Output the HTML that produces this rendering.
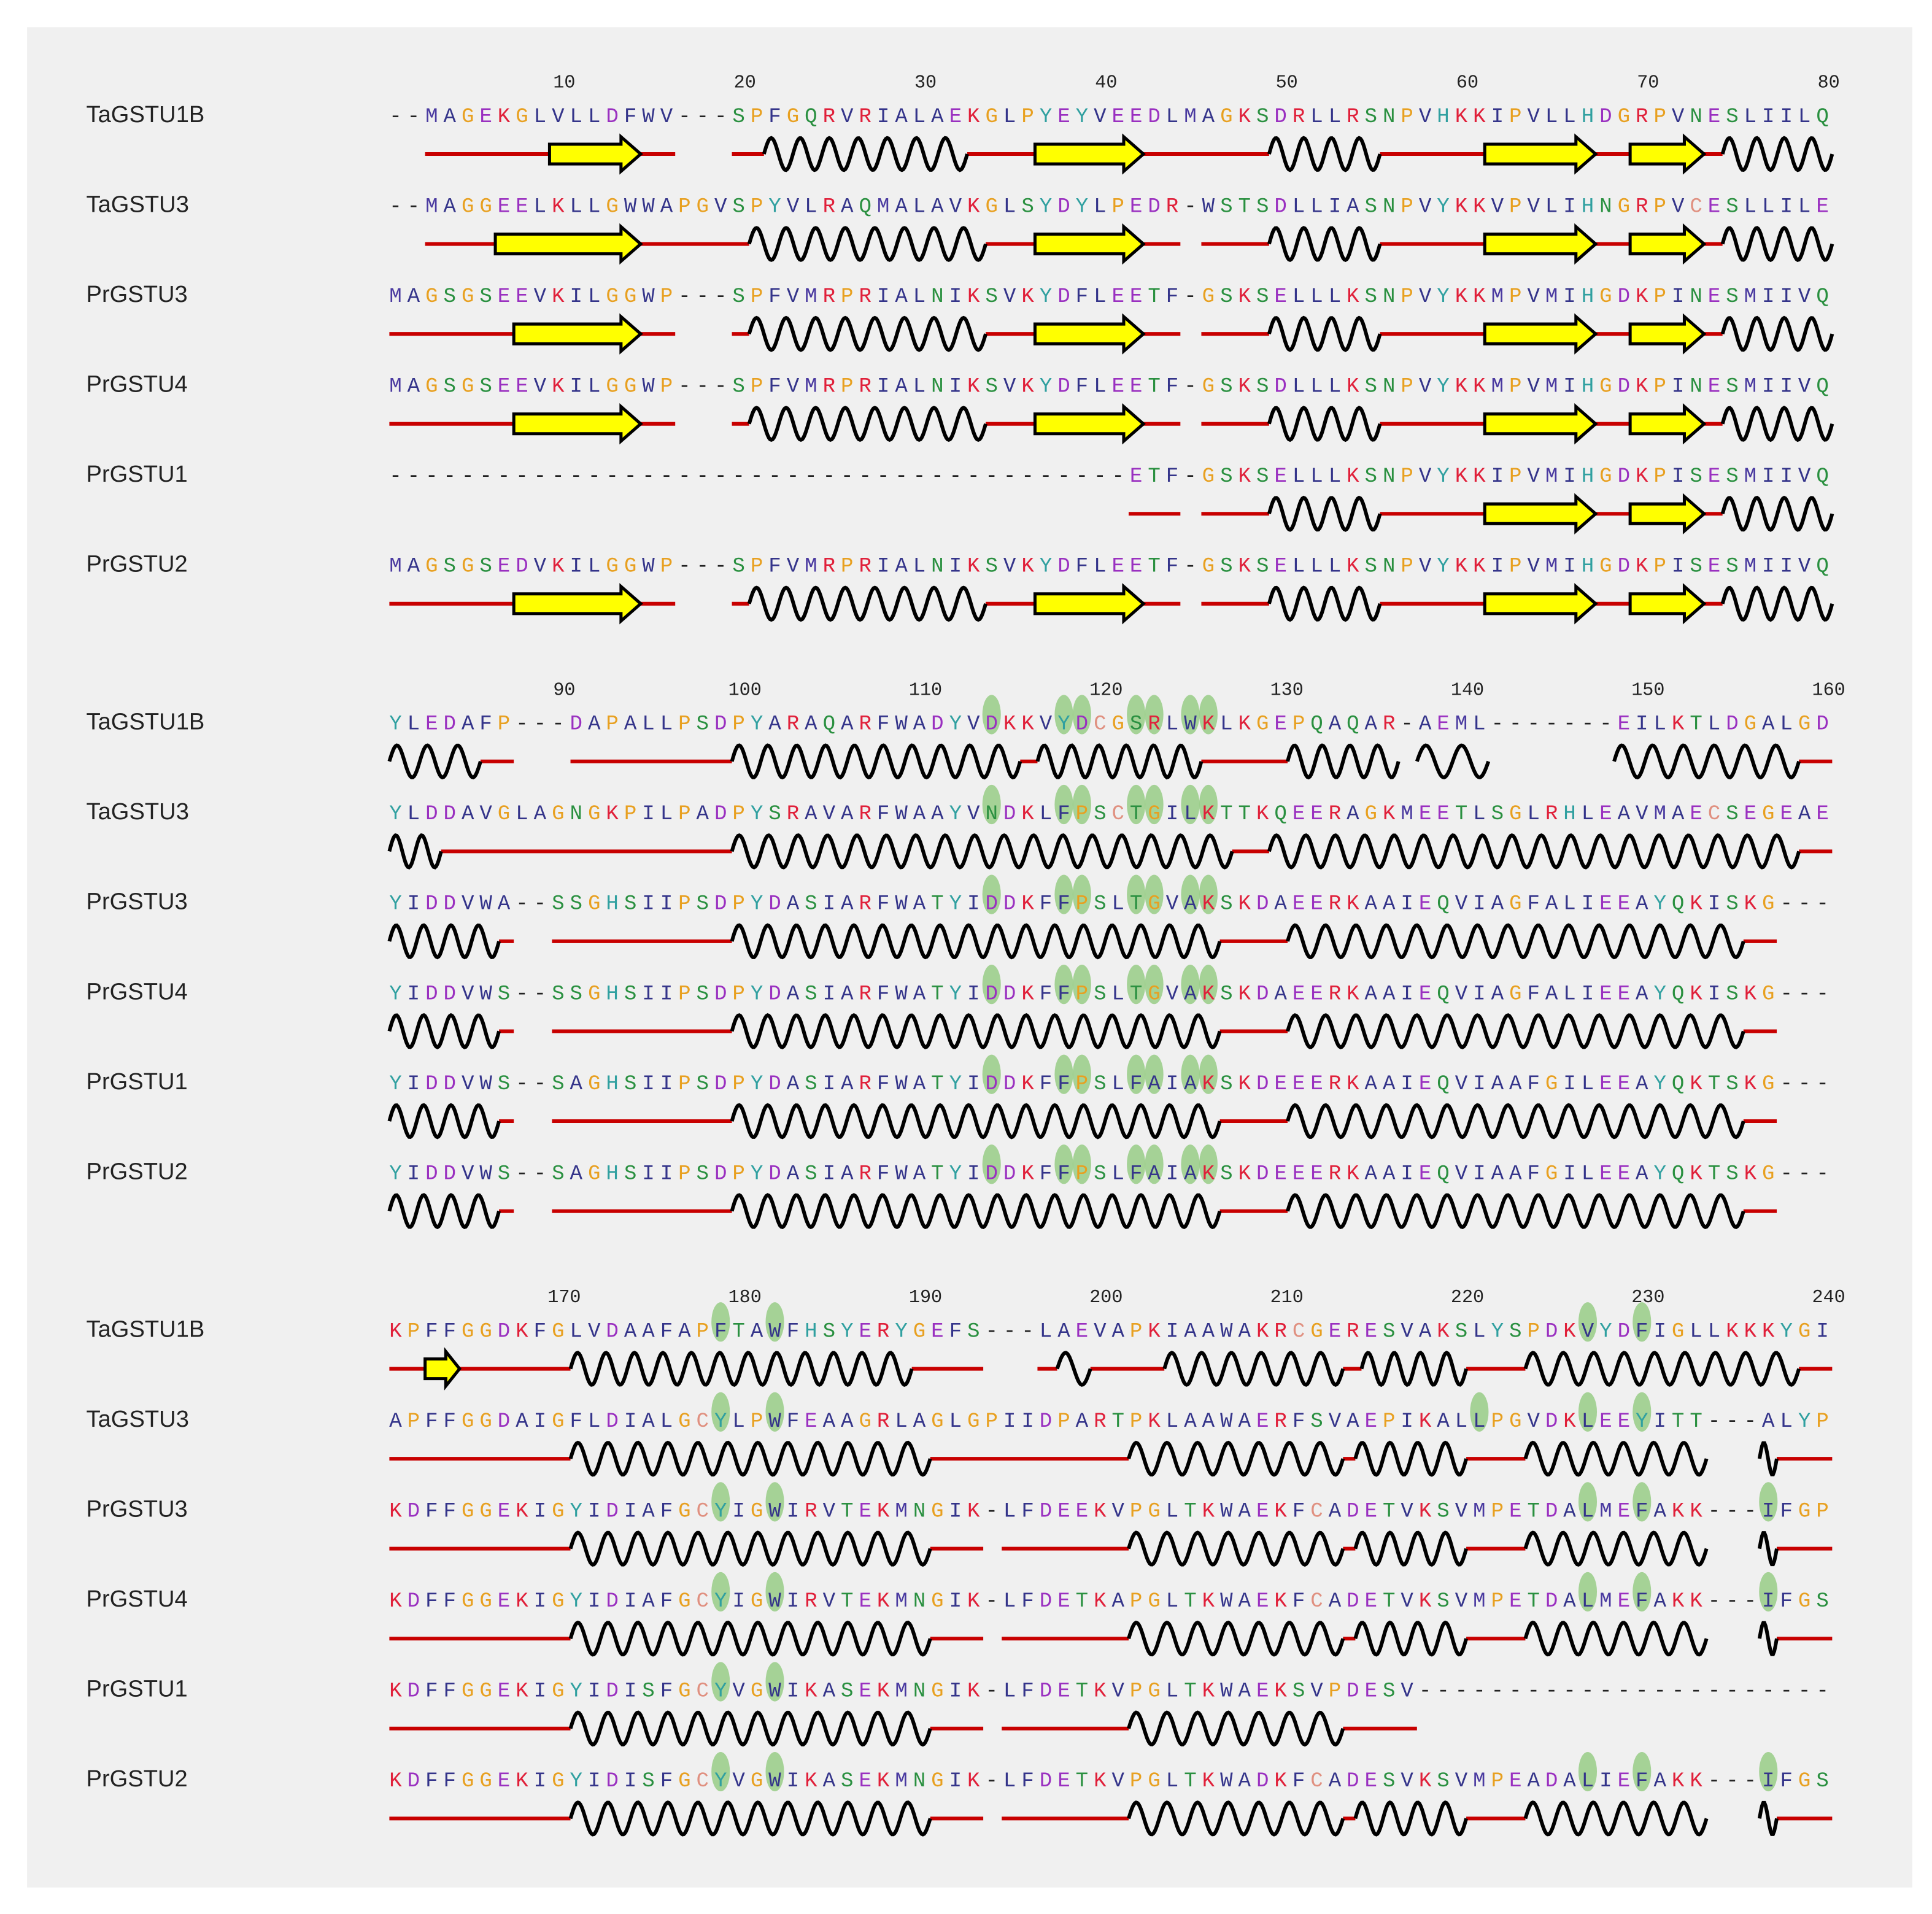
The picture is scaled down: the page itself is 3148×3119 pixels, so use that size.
<!DOCTYPE html>
<html><head><meta charset="utf-8"><style>
html,body{margin:0;padding:0;background:#fff;}
svg{display:block;}
</style></head><body>
<svg id="s" width="3148" height="3119" viewBox="0 0 1568 1553.5" xmlns="http://www.w3.org/2000/svg">
<rect x="22" y="22" width="1530" height="1510" fill="#f0f0f0"/>
</svg>
<script>
const svg=document.getElementById('s');
const NS='http://www.w3.org/2000/svg';
function el(t,a,txt){const e=document.createElementNS(NS,t);for(const k in a)e.setAttribute(k,a[k]);if(txt!==undefined)e.textContent=txt;svg.appendChild(e);return e;}
const names=['TaGSTU1B','TaGSTU3','PrGSTU3','PrGSTU4','PrGSTU1','PrGSTU2'];
const seqs=[
["--MAGEKGLVLLDFWV---SPFGQRVRIALAEKGLPYEYVEEDLMAGKSDRLLRSNPVHKKIPVLLHDGRPVNESLIILQ",
"--MAGGEELKLLGWWAPGVSPYVLRAQMALAVKGLSYDYLPEDR-WSTSDLLIASNPVYKKVPVLIHNGRPVCESLLILE",
"MAGSGSEEVKILGGWP---SPFVMRPRIALNIKSVKYDFLEETF-GSKSELLLKSNPVYKKMPVMIHGDKPINESMIIVQ",
"MAGSGSEEVKILGGWP---SPFVMRPRIALNIKSVKYDFLEETF-GSKSDLLLKSNPVYKKMPVMIHGDKPINESMIIVQ",
"-----------------------------------------ETF-GSKSELLLKSNPVYKKIPVMIHGDKPISESMIIVQ",
"MAGSGSEDVKILGGWP---SPFVMRPRIALNIKSVKYDFLEETF-GSKSELLLKSNPVYKKIPVMIHGDKPISESMIIVQ"],
["YLEDAFP---DAPALLPSDPYARAQARFWADYVDKKVYDCGSRLWKLKGEPQAQAR-AEML-------EILKTLDGALGD",
"YLDDAVGLAGNGKPILPADPYSRAVARFWAAYVNDKLFPSCTGILKTTKQEERAGKMEETLSGLRHLEAVMAECSEGEAE",
"YIDDVWA--SSGHSIIPSDPYDASIARFWATYIDDKFFPSLTGVAKSKDAEERKAAIEQVIAGFALIEEAYQKISKG---",
"YIDDVWS--SSGHSIIPSDPYDASIARFWATYIDDKFFPSLTGVAKSKDAEERKAAIEQVIAGFALIEEAYQKISKG---",
"YIDDVWS--SAGHSIIPSDPYDASIARFWATYIDDKFFPSLFAIAKSKDEEERKAAIEQVIAAFGILEEAYQKTSKG---",
"YIDDVWS--SAGHSIIPSDPYDASIARFWATYIDDKFFPSLFAIAKSKDEEERKAAIEQVIAAFGILEEAYQKTSKG---"],
["KPFFGGDKFGLVDAAFAPFTAWFHSYERYGEFS---LAEVAPKIAAWAKRCGERESVAKSLYSPDKVYDFIGLLKKKYGI",
"APFFGGDAIGFLDIALGCYLPWFEAAGRLAGLGPIIDPARTPKLAAWAERFSVAEPIKALLPGVDKLEEYITT---ALYP",
"KDFFGGEKIGYIDIAFGCYIGWIRVTEKMNGIK-LFDEEKVPGLTKWAEKFCADETVKSVMPETDALMEFAKK---IFGP",
"KDFFGGEKIGYIDIAFGCYIGWIRVTEKMNGIK-LFDETKAPGLTKWAEKFCADETVKSVMPETDALMEFAKK---IFGS",
"KDFFGGEKIGYIDISFGCYVGWIKASEKMNGIK-LFDETKVPGLTKWAEKSVPDESV-----------------------",
"KDFFGGEKIGYIDISFGCYVGWIKASEKMNGIK-LFDETKVPGLTKWADKFCADESVKSVMPEADALIEFAKK---IFGS"]];
const col={A:'#34348a',V:'#34348a',L:'#34348a',I:'#34348a',M:'#4a3aa0',F:'#34348a',W:'#34348a',
D:'#9a30c0',E:'#9a30c0',K:'#e0203a',R:'#e0203a',G:'#e8a020',P:'#e8a020',S:'#2a9040',T:'#2a9040',N:'#2a9040',Q:'#2a9040',Y:'#30a0a0',H:'#30a0a0',C:'#e09080','-':'#222'};
const X0=321,ST=14.66;
const cx=i=>X0+i*ST;
const blockY=[66,559,1052];
const hl=[null,
 [[33,[0,1,2,3,4,5]],[37,[0,1,2,3,4,5]],[38,[0,1,2,3,4,5]],[41,[0,1,2,3,4,5]],[42,[0,1,2,3,4,5]],[44,[0,1,2,3,4,5]],[45,[0,1,2,3,4,5]]],
 [[18,[0,1,2,3,4,5]],[21,[0,1,2,3,4,5]],[66,[0,1,2,3,5]],[69,[0,1,2,3,5]],[60,[1]],[76,[2,3,5]]]];
const L=(a,b)=>['l',a,b],H=(a,b)=>['h',a,b],A=(a,b)=>['a',a,b];
const b1a=[L(1120,1205),A(1205,1295),L(1295,1323),A(1323,1383),L(1383,1398),H(1398,1487)];
const pr1=[L(316,548),A(417,520),L(594,608),H(608,800),L(800,840),A(840,928),L(928,958),L(975,1030),H(1030,1120),...b1a];
const pr2=[H(316,405),L(405,417),L(448,594),H(594,990),L(990,1045),H(1045,1415),L(1415,1442)];
const pr3=[L(316,463),H(463,755),L(755,798),L(813,916),H(916,1090),L(1090,1100),H(1100,1190),L(1190,1238),H(1238,1385),H(1428,1442),L(1442,1487)];
const struct=[
[[L(345,548),A(446,520),L(594,620),H(620,785),L(785,840),A(840,928),L(928,1030),H(1030,1120),...b1a],
 [L(345,608),A(402,520),H(608,800),L(800,840),A(840,928),L(928,958),L(975,1030),H(1030,1120),...b1a],
 pr1,pr1,[L(916,958),L(975,1030),H(1030,1120),...b1a],pr1],
[[H(316,390),L(390,417),L(463,594),H(594,828),L(828,842),H(842,975),L(975,1045),H(1045,1135),H(1150,1208),H(1310,1460),L(1460,1487)],
 [H(316,358),L(358,594),H(594,1000),L(1000,1030),H(1030,1460),L(1460,1487)],pr2,pr2,pr2,pr2],
[[L(316,345),A(345,373),L(373,463),H(463,740),L(740,798),L(842,858),H(858,885),L(885,945),H(945,1090),L(1090,1105),H(1105,1190),L(1190,1238),H(1238,1460),L(1460,1487)],
 [L(316,463),H(463,755),L(755,916),H(916,1090),L(1090,1100),H(1100,1190),L(1190,1238),H(1238,1385),H(1428,1442),L(1442,1487)],
 pr3,pr3,[L(316,463),H(463,755),L(755,798),L(813,916),H(916,1090),L(1090,1150)],pr3]];
for(let b=0;b<3;b++){
 const by=blockY[b];
 for(let k=1;k<=8;k++){el('text',{x:cx(k*10-1)+5,y:by+5,'font-family':'Liberation Mono, monospace','font-size':15,fill:'#222','text-anchor':'middle'},String(b*80+k*10));}
 // highlights
 if(hl[b]){for(const [c,rows] of hl[b]){for(const r of rows){const y=by+27+r*73;el('ellipse',{cx:cx(c),cy:y-6,rx:7.5,ry:16,fill:'#8cc878','fill-opacity':0.75});}}}
 for(let r=0;r<6;r++){
  const y=by+27+r*73;
  el('text',{x:70,y:y+6,'font-family':'Liberation Sans, sans-serif','font-size':19,fill:'#222'},names[r]);
  const s=seqs[b][r];
  for(let i=0;i<80&&i<s.length;i++){const ch=s[i];el('text',{x:cx(i),y:y+6,'font-family':'Liberation Mono, monospace','font-size':17,fill:col[ch]||'#333','text-anchor':'middle'},ch);}
  const sy=y+32;
  const segs=struct[b][r];
  // lines first
  for(const sg of segs){if(sg[0]=='l')el('line',{x1:sg[1],y1:sy,x2:sg[2],y2:sy,stroke:'#c80000','stroke-width':3});}
  for(const sg of segs){
   if(sg[0]=='h'){const x1=sg[1],x2=sg[2];const n=Math.max(1,Math.round((x2-x1)/24));const P=(x2-x1)/n;let p='';
     for(let x=x1;x<=x2+0.01;x+=1){const yy=sy-13*Math.sin(2*Math.PI*(x-x1)/P);p+=(p?' L':'M')+x.toFixed(1)+' '+yy.toFixed(1);}
     el('path',{d:p,fill:'none',stroke:'#000','stroke-width':3});}
   if(sg[0]=='a'){const x1=sg[1],x2=sg[2],hd=Math.min(16,(x2-x1)*0.4);
     const pts=[[x1,sy-8],[x2-hd,sy-8],[x2-hd,sy-14],[x2,sy],[x2-hd,sy+14],[x2-hd,sy+8],[x1,sy+8]].map(p=>p.join(',')).join(' ');
     el('polygon',{points:pts,fill:'#ffff00',stroke:'#000','stroke-width':2.5,'stroke-linejoin':'miter'});}
  }
 }
}
</script>
</body></html>
